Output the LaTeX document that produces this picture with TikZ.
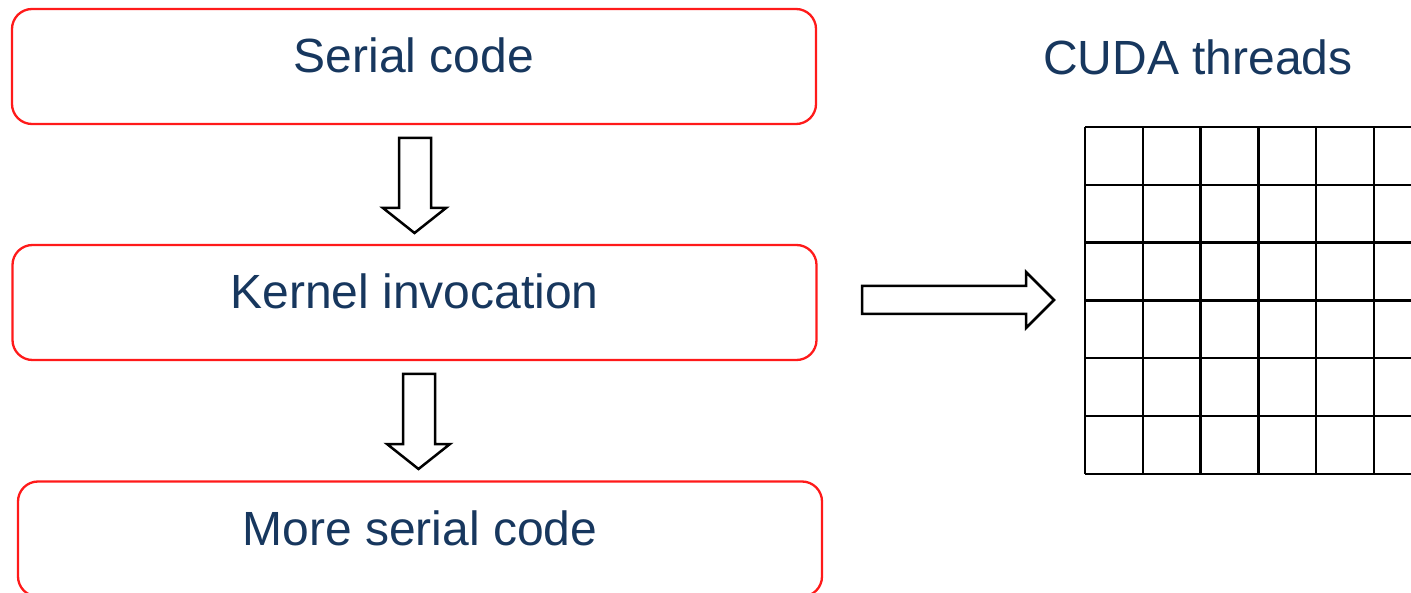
\documentclass[tikz,border=0pt]{standalone}
\usepackage{fontspec}
\setmainfont{Liberation Sans}
\definecolor{navytext}{HTML}{17375E}
\definecolor{boxred}{HTML}{FF1A1A}
\begin{document}
\begin{tikzpicture}[x=1pt,y=-1pt,
  stage/.style={draw=boxred,line width=2.3pt,rounded corners=20pt,minimum width=804pt,minimum height=115pt,inner sep=0pt,text=navytext,font=\fontsize{48}{58}\selectfont},
  blockarrow/.style={draw=black,line width=2.5pt,fill=white,line join=miter},
  gridline/.style={draw=black,line width=2.5pt},
  title/.style={text=navytext,font=\fontsize{48}{58}\selectfont,inner sep=0pt}]
  \useasboundingbox (0,0) rectangle (1411,593);
  \clip (0,0) rectangle (1411,593);

  % program stages
  \node[stage] (serial) at (414,66.5) {\raisebox{22pt}{Serial code}};
  \node[stage] (kernel) at (414.5,302.5) {\raisebox{22pt}{Kernel invocation}};
  \node[stage] (more) at (420,539) {\raisebox{22pt}{More serial code}};

  % block arrows between stages
  \draw[blockarrow] (399,138) -- (431,138) -- (431,208) -- (446,208) -- (414.5,233) -- (383,208) -- (399,208) -- cycle;
  \draw[blockarrow] (403,374) -- (435,374) -- (435,444) -- (450,444) -- (418.5,469) -- (387,444) -- (403,444) -- cycle;

  % launch arrow
  \draw[blockarrow] (862,286) -- (1026,286) -- (1026,272) -- (1054,300) -- (1026,328) -- (1026,314) -- (862,314) -- cycle;

  % thread grid
  \node[title] (cuda) at (1198,57) {CUDA threads};
  \foreach \i in {0,...,6} {
    \draw[gridline] (1085,127+57.8*\i) -- (1420,127+57.8*\i);
  }
  \foreach \j in {0,...,6} {
    \draw[gridline] (1085+57.8*\j,127) -- (1085+57.8*\j,473.8);
  }
\end{tikzpicture}
\end{document}
